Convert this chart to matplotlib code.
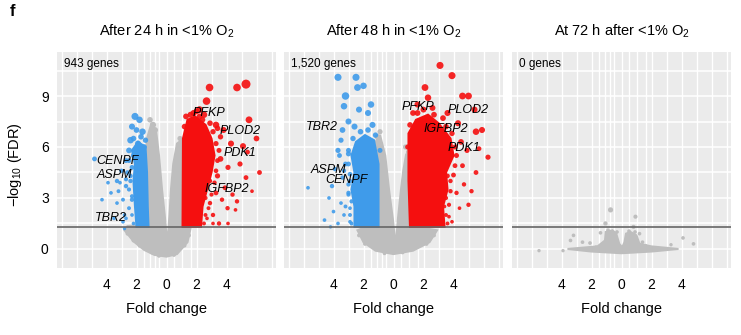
import numpy as np
import matplotlib
matplotlib.use("Agg")
import matplotlib.pyplot as plt

plt.rcParams['font.family'] = ['Liberation Sans', 'DejaVu Sans']
plt.rcParams['mathtext.fontset'] = 'custom'
plt.rcParams['mathtext.rm'] = 'Liberation Sans'
plt.rcParams['mathtext.it'] = 'Liberation Sans:italic'

# ---- data (x = log2 fold change, y = -log10 FDR) ----
titles = ['After 24 h in <1% O$_2$', 'After 48 h in <1% O$_2$', 'At 72 h after <1% O$_2$']
gene_counts = ['943 genes', '1,520 genes', '0 genes']
fdr_cut = 1.3

# dense clouds, outlines of the solid-looking areas
p1_gray_x = [0.0, -0.8, -1.5, -2.2, -2.8, -2.6, -1.4, -1.4, -1.4, -1.3, -1.0, -0.7, -0.5, -0.3, -0.12, 0.05, 0.2, 0.3, 0.45, 0.7, 1.0, 1.15, 1.2, 1.6, 1.4, 0.7]
p1_gray_y = [-0.45, -0.35, -0.05, 0.45, 1.1, 1.35, 1.4, 3.0, 5.0, 6.5, 7.4, 7.0, 5.5, 3.5, 2.0, 0.25, 2.0, 3.5, 5.0, 6.2, 6.4, 4.0, 1.5, 1.2, 0.4, -0.3]
p1_blue_x = [-1.2, -2.0, -2.1, -2.2, -2.1, -2.3, -1.9, -1.4, -1.3, -1.25]
p1_blue_y = [1.3, 1.3, 2.5, 4.0, 5.0, 5.8, 6.3, 6.0, 4.5, 2.5]
p1_red_x = [1.07, 2.3, 2.4, 2.7, 3.0, 3.2, 3.0, 2.6, 1.9, 1.4, 1.1]
p1_red_y = [1.3, 1.3, 2.5, 3.5, 4.5, 5.5, 6.5, 7.3, 7.8, 7.6, 6.5]

p2_gray_x = [0.0, -1.2, -2.0, -2.4, -1.5, -1.4, -1.3, -1.2, -0.9, -0.55, -0.3, -0.05, 0.15, 0.3, 0.5, 0.65, 0.85, 1.15, 1.2, 1.5, 2.9, 2.4, 1.3]
p2_gray_y = [-0.3, -0.1, 0.4, 1.1, 1.4, 3.0, 5.0, 6.3, 6.7, 5.5, 3.5, 1.8, 0.15, 1.8, 3.5, 4.6, 5.6, 5.3, 3.0, 1.3, 1.1, 0.4, -0.1]
p2_blue_x = [-1.0, -2.6, -2.6, -2.8, -2.6, -2.8, -2.5, -1.9, -1.3, -1.0]
p2_blue_y = [1.3, 1.3, 2.5, 3.5, 4.5, 5.5, 6.3, 6.7, 6.4, 5.0]
p2_red_x = [1.1, 3.4, 3.3, 3.6, 3.5, 4.0, 3.8, 3.0, 2.3, 1.5, 1.0, 1.0]
p2_red_y = [1.3, 1.3, 2.5, 3.5, 4.5, 5.5, 6.5, 7.4, 7.9, 7.6, 6.8, 4.0]

p3_gray_x = [-3.6, -1.6, -1.1, -1.05, -0.6, -0.35, -0.15, 0.05, 0.2, 0.3, 0.6, 1.0, 1.2, 2.0, 3.8, 2.0, 0.0, -2.0]
p3_gray_y = [0.0, 0.15, 0.5, 1.0, 1.1, 0.9, 0.3, 0.1, 0.4, 0.9, 1.0, 0.8, 0.3, 0.15, 0.0, -0.15, -0.25, -0.15]
p3_blue_x, p3_blue_y, p3_red_x, p3_red_y = [], [], [], []

# single points outside the clouds (x, y, marker size)
p1_red_pts_x = [2.87, 4.7, 5.3, 2.67, 5.5, 6.0, 5.1, 6.2, 5.3, 4.7, 3.3, 3.8, 4.3, 3.6, 4.1, 3.4, 3.9, 4.4, 3.7, 4.07, 4.1, 3.5, 3.1, 2.9, 3.3, 2.8, 2.2, 1.8, 2.5, 4.9, 5.4, 3.1, 2.7, 4.6, 5.7,
                2.5, 2.6, 2.8, 2.6, 3.0, 3.2, 2.9, 3.3, 3.4, 3.5, 3.3, 3.1, 2.9, 2.4, 2.0, 1.6, 1.2, 1.3, 2.2, 3.6, 3.4]
p1_red_pts_y = [9.5, 9.5, 9.7, 8.7, 7.6, 6.5, 6.05, 4.5, 4.2, 2.8, 7.3, 7.0, 6.2, 5.3, 4.8, 4.3, 3.6, 3.2, 2.9, 2.4, 1.5, 1.5, 2.0, 2.7, 3.3, 6.0, 8.2, 8.0, 7.9, 5.0, 5.7, 1.5, 1.8, 2.3, 3.4,
                1.5, 2.0, 2.4, 3.0, 3.2, 3.9, 4.0, 4.6, 5.2, 5.8, 6.2, 6.9, 7.4, 7.6, 8.1, 7.9, 7.2, 7.8, 7.8, 6.6, 7.1]
p1_red_pts_s = [30, 30, 42, 30, 24, 17, 19, 12, 12, 10, 22, 19, 19, 17, 14, 14, 12, 10, 10, 10, 7, 10, 10, 10, 12, 19, 24, 19, 22, 14, 12, 7, 7, 7, 7,
                8, 8, 8, 9, 9, 10, 10, 11, 12, 13, 14, 15, 16, 16, 18, 18, 16, 17, 17, 15, 16]
p1_blue_pts_x = [-2.1, -1.8, -2.3, -1.6, -2.4, -1.9, -1.5, -2.5, -2.2, -2.7, -4.8, -3.0, -3.3, -2.7, -3.7, -4.3, -3.3, -3.1, -2.7, -3.5, -2.9, -2.3, -2.4, -3.9, -2.8,
                 -2.2, -2.3, -2.5, -2.3, -2.5, -2.4, -2.6, -2.3, -2.5, -2.2, -1.7, -2.0, -1.4, -2.8, -2.9, -3.2, -2.7]
p1_blue_pts_y = [7.8, 7.6, 7.2, 6.9, 6.4, 6.2, 6.0, 5.8, 5.5, 5.2, 5.3, 4.6, 4.0, 3.7, 3.3, 2.9, 2.7, 3.9, 1.8, 1.8, 1.6, 2.9, 4.3, 3.9, 1.2,
                 1.5, 2.0, 2.4, 3.1, 3.5, 4.0, 4.5, 4.8, 5.2, 6.5, 6.6, 7.0, 6.4, 2.0, 2.9, 3.4, 4.1]
p1_blue_pts_s = [26, 22, 19, 22, 22, 19, 17, 17, 14, 12, 12, 10, 10, 10, 7, 7, 7, 7, 7, 7, 7, 10, 10, 7, 6,
                 7, 7, 8, 9, 9, 10, 11, 12, 12, 16, 16, 17, 15, 7, 8, 8, 9]
p1_gray_pts_x = [-0.9, -0.75, 0.9, -1.1, -2.6, -2.2, -1.8, 1.5, 1.2, -1.0, 0.5, -0.5]
p1_gray_pts_y = [7.3, 7.0, 6.5, 7.6, 0.9, 0.5, 0.2, 0.8, 0.2, -0.2, -0.35, -0.4]
p1_gray_pts_s = [20, 16, 14, 16, 8, 8, 8, 8, 8, 8, 8, 8]

p2_red_pts_x = [3.1, 3.9, 2.1, 4.6, 5.0, 2.3, 5.4, 5.5, 5.9, 6.3, 5.5, 5.0, 4.6, 4.0, 4.2, 3.9, 3.4, 4.5, 4.9, 4.3, 3.6, 1.6, 5.7, 4.7, 4.4, 3.7, 5.2, 1.3,
                3.6, 3.5, 3.7, 3.5, 3.8, 3.8, 3.6, 4.1, 4.2, 4.1, 3.9, 3.5, 3.3, 2.7, 2.0, 1.6, 1.1, 0.95, 2.6]
p2_red_pts_y = [10.8, 10.2, 9.5, 9.0, 9.0, 8.9, 8.2, 6.9, 7.0, 5.4, 4.5, 2.6, 4.9, 4.35, 3.3, 1.6, 2.5, 6.3, 5.8, 7.4, 8.0, 8.5, 5.9, 3.8, 2.4, 1.9, 3.4, 8.0,
                1.5, 2.0, 2.6, 3.0, 3.4, 4.0, 4.3, 4.9, 5.5, 6.0, 6.8, 7.2, 7.7, 7.9, 8.2, 8.0, 7.3, 6.0, 8.3]
p2_red_pts_s = [26, 26, 24, 24, 24, 22, 19, 22, 19, 14, 12, 10, 12, 12, 10, 7, 7, 17, 14, 19, 19, 19, 12, 10, 7, 7, 10, 17,
                8, 8, 9, 9, 10, 10, 11, 12, 13, 14, 15, 16, 17, 17, 18, 18, 16, 14, 18]
p2_blue_pts_x = [-3.7, -2.5, -2.4, -2.0, -3.2, -3.3, -2.3, -1.5, -1.7, -3.0, -2.6, -3.4, -1.4, -3.5, -3.7, -3.0, -3.6, -3.2, -3.9, -3.4, -4.1, -5.7, -3.0, -4.3, -3.5, -4.0, -3.3, -4.6, -3.7, -2.9, -4.2, -2.9, -2.9,
                 -2.8, -2.9, -2.8, -3.0, -3.0, -2.9, -3.0, -3.0, -2.7, -2.2, -1.7, -1.2, -0.9, -3.2, -3.3]
p2_blue_pts_y = [10.1, 10.1, 9.5, 9.6, 9.0, 8.4, 8.2, 8.5, 8.0, 7.5, 7.2, 7.0, 7.3, 6.4, 5.8, 5.6, 5.5, 5.0, 4.7, 4.2, 3.7, 3.6, 3.3, 3.0, 2.7, 2.2, 2.0, 1.7, 1.5, 1.6, 1.3, 4.0, 2.4,
                 1.5, 2.0, 2.8, 3.2, 3.8, 4.4, 5.0, 5.8, 6.5, 6.9, 7.0, 6.7, 5.8, 2.5, 4.6]
p2_blue_pts_s = [26, 26, 24, 22, 29, 22, 19, 22, 19, 19, 19, 17, 19, 14, 14, 14, 12, 12, 10, 10, 10, 7, 10, 7, 7, 7, 7, 7, 7, 7, 6, 10, 7,
                 8, 8, 9, 9, 10, 11, 12, 13, 15, 16, 16, 15, 13, 8, 10]
p2_gray_pts_x = [-1.07, -0.9, 0.8, 1.0, -2.3, -1.9, 2.7, 2.2, -0.6, 0.6]
p2_gray_pts_y = [6.6, 6.9, 6.0, 5.7, 0.8, 0.3, 0.8, 0.3, -0.25, -0.2]
p2_gray_pts_s = [16, 14, 14, 14, 8, 8, 8, 8, 8, 8]

p3_red_pts_x, p3_red_pts_y, p3_red_pts_s = [], [], []
p3_blue_pts_x, p3_blue_pts_y, p3_blue_pts_s = [], [], []
p3_gray_pts_x = [-0.73, -1.07, 0.93, 0.8, -3.2, -3.4, -2.6, -5.5, -3.9, 4.1, 4.8, 3.3, -2.1, -1.7, 1.4, 1.6, -1.4, 1.2, -0.9, -0.3, 0.5, 0.9]
p3_gray_pts_y = [2.3, 1.5, 1.9, 1.3, 0.8, 0.5, 0.4, -0.1, -0.1, 0.65, 0.3, 0.25, 0.35, 0.1, 0.4, 0.2, 0.95, 0.9, 1.1, 1.0, 1.05, 1.0]
p3_gray_pts_s = [14, 10, 9, 9, 7, 7, 7, 6, 6, 7, 7, 6, 7, 7, 7, 6, 7, 7, 7, 7, 7, 7]

p1_genes = ['PFKP', 'PLOD2', 'PDK1', 'IGFBP2', 'CENPF', 'ASPM', 'TBR2']
p1_gene_x = [1.73, 3.53, 3.8, 2.53, -4.67, -4.67, -4.8]
p1_gene_y = [8.0, 6.94, 5.65, 3.53, 5.2, 4.35, 1.82]
p2_genes = ['PFKP', 'PLOD2', 'IGFBP2', 'PDK1', 'TBR2', 'ASPM', 'CENPF']
p2_gene_x = [0.53, 3.6, 2.0, 3.6, -5.87, -5.53, -4.53]
p2_gene_y = [8.35, 8.2, 7.06, 5.94, 7.18, 4.65, 4.06]
p3_genes, p3_gene_x, p3_gene_y = [], [], []

x_ticks = [-4, -2, 0, 2, 4]
x_tick_labels = ['4', '2', '0', '2', '4']
y_ticks = [0, 3, 6, 9]

# ---- style ----
GRAY = '#BEBEBE'
BLUE = '#3F9BEA'
RED = '#F50F0F'
BG = '#EBEBEB'
vgrid = [-7, -6, -5, -4, -3, -2, -1.5, -1.1, -0.8, -0.5, 0, 0.5, 1, 1.6, 2, 3, 4, 5, 6, 7]
hgrid = [0, 1.5, 3, 4.5, 6, 7.5, 9, 10.5]

fig = plt.figure(figsize=(7.41, 3.35), dpi=100)

panels = [
    (p1_gray_x, p1_gray_y, p1_blue_x, p1_blue_y, p1_red_x, p1_red_y,
     (p1_gray_pts_x, p1_gray_pts_y, p1_gray_pts_s), (p1_blue_pts_x, p1_blue_pts_y, p1_blue_pts_s),
     (p1_red_pts_x, p1_red_pts_y, p1_red_pts_s), p1_genes, p1_gene_x, p1_gene_y),
    (p2_gray_x, p2_gray_y, p2_blue_x, p2_blue_y, p2_red_x, p2_red_y,
     (p2_gray_pts_x, p2_gray_pts_y, p2_gray_pts_s), (p2_blue_pts_x, p2_blue_pts_y, p2_blue_pts_s),
     (p2_red_pts_x, p2_red_pts_y, p2_red_pts_s), p2_genes, p2_gene_x, p2_gene_y),
    (p3_gray_x, p3_gray_y, p3_blue_x, p3_blue_y, p3_red_x, p3_red_y,
     (p3_gray_pts_x, p3_gray_pts_y, p3_gray_pts_s), (p3_blue_pts_x, p3_blue_pts_y, p3_blue_pts_s),
     (p3_red_pts_x, p3_red_pts_y, p3_red_pts_s), p3_genes, p3_gene_x, p3_gene_y),
]

lefts = [57, 284, 512]
for i, (gx, gy, bx, by, rx, ry, gp, bp, rp, genes, genx, geny) in enumerate(panels):
    ax = fig.add_axes([lefts[i] / 741, 67 / 335, 219 / 741, 216 / 335])
    ax.set_facecolor(BG)
    for s in ax.spines.values():
        s.set_visible(False)
    for v in vgrid:
        ax.axvline(v, color='white', lw=1.0, zorder=0)
    for h in hgrid:
        ax.axhline(h, color='white', lw=1.1, zorder=0)

    # clouds first, then the single points on top
    if gx:
        ax.fill(gx, gy, color=GRAY, lw=1.5, ec=GRAY, zorder=1)
    ax.scatter(gp[0], gp[1], s=gp[2], color=GRAY, lw=0, zorder=1)
    if bx:
        ax.fill(bx, by, color=BLUE, lw=1.5, ec=BLUE, zorder=2)
    if rx:
        ax.fill(rx, ry, color=RED, lw=1.5, ec=RED, zorder=2)
    ax.scatter(bp[0], bp[1], s=bp[2], color=BLUE, lw=0, alpha=0.9, zorder=3)
    ax.scatter(rp[0], rp[1], s=rp[2], color=RED, lw=0, alpha=0.9, zorder=3)

    ax.axhline(fdr_cut, color='#666666', lw=1.2, zorder=4)

    for g, gxx, gyy in zip(genes, genx, geny):
        ax.text(gxx, gyy, g, style='italic', fontsize=9, va='center', ha='left', zorder=5)

    ax.text(-6.85, 10.9, gene_counts[i], fontsize=8.5, va='center', ha='left', zorder=5)

    ax.set_xlim(-7.3, 7.3)
    ax.set_ylim(-1.12, 11.59)
    ax.set_xticks(x_ticks)
    ax.set_xticklabels(x_tick_labels, fontsize=10)
    ax.tick_params(length=0, pad=7)
    if i == 0:
        ax.set_yticks(y_ticks)
        ax.tick_params(axis='y', labelsize=10, pad=6)
    else:
        ax.set_yticks([])

    cx = (lefts[i] + 109.5) / 741
    fig.text(cx, 1 - 31 / 335, titles[i], fontsize=10.5, ha='center', va='center')
    fig.text(cx, 1 - 309 / 335, 'Fold change', fontsize=10.5, ha='center', va='center')

fig.text(15 / 741, 1 - 165 / 335, '\u2212log$_{10}$ (FDR)', fontsize=10.5, rotation=90,
         ha='center', va='center')
fig.text(12 / 741, 1 - 12 / 335, 'f', fontsize=12, fontweight='bold', ha='center', va='center')

fig.savefig('out.png', dpi=100)
